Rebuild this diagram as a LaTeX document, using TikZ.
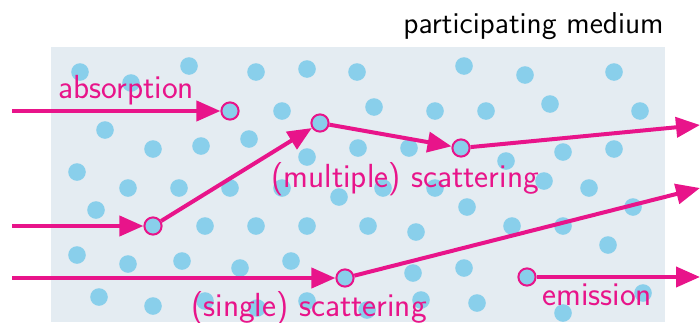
\documentclass[tikz,border=0pt]{standalone}
\usepackage{fontspec}
\usetikzlibrary{arrows.meta}
\definecolor{mag}{RGB}{232,20,138}
\definecolor{dotc}{RGB}{137,207,235}
\definecolor{medc}{RGB}{228,236,242}
\begin{document}
\begin{tikzpicture}[x=0.5pt,y=-0.5pt,
  lbl/.style={text=mag,font=\sffamily\fontsize{16.7pt}{19pt}\selectfont,inner sep=0pt},
  ttl/.style={text=black,font=\sffamily\fontsize{15.1pt}{17pt}\selectfont,inner sep=0pt},
  hit/.style={circle,draw=mag,fill=dotc,line width=1pt,minimum size=8.6pt,inner sep=0pt},
  ray/.style={draw=mag,line width=2pt,-{Triangle[length=12pt,width=10pt]}}]
\useasboundingbox (0,0) rectangle (700,322);
\fill[medc] (51,47) rectangle (665,322);
\foreach \p in {(80,72),(131,83),(189,66),(256,72),(307,69),(357,72),(464,66),(525,75),(614,72),
  (282,111),(374,107),(435,111),(486,111),(550,104),(640,111),
  (105,130),(153,149),(201,146),(249,139),(307,157),(358,148),(409,148),(506,161),(563,152),(614,149),
  (77,172),(128,188),(179,188),(230,188),(282,188),(339,197),(383,188),(435,188),(467,207),(544,181),(589,188),(633,207),
  (96,210),(205,226),(256,226),(307,226),(368,226),(416,232),(512,226),(563,226),(608,245),
  (77,255),(128,264),(182,261),(240,268),(291,261),(413,273),(464,268),(643,293),
  (99,297),(153,306),(205,301),(257,308),(307,301),(367,310),(421,300),(477,303),(563,313)}
  \fill[dotc] \p circle (4.4pt);
\node[ttl,anchor=base east] (title) at (664,33) {participating medium};
\node[lbl,anchor=base west] (labs) at (58,98) {absorption};
\node[lbl,anchor=base west] (lmul) at (271,187) {(multiple) scattering};
\node[lbl,anchor=base west] (lsin) at (191,316) {(single) scattering};
\node[lbl,anchor=base west] (lemi) at (542,305) {emission};
\node[hit] (a) at (230,111) {};
\node[hit] (m1) at (153,226) {};
\node[hit] (m2) at (320,123) {};
\node[hit] (m3) at (461,148) {};
\node[hit] (s1) at (345,278) {};
\node[hit] (e1) at (527,277) {};
\coordinate (ai) at (12,111);
\coordinate (mi) at (12,226);
\coordinate (mo) at (700,125);
\coordinate (si) at (12,278);
\coordinate (so) at (700,188);
\coordinate (eo) at (700,277);
\path[ray] (ai) -- (a);
\path[ray] (mi) -- (m1);
\path[ray] (m1) -- (m2);
\path[ray] (m2) -- (m3);
\path[ray] (m3) -- (mo);
\path[ray] (si) -- (s1);
\path[ray] (s1) -- (so);
\path[ray] (e1) -- (eo);
\end{tikzpicture}
\end{document}
